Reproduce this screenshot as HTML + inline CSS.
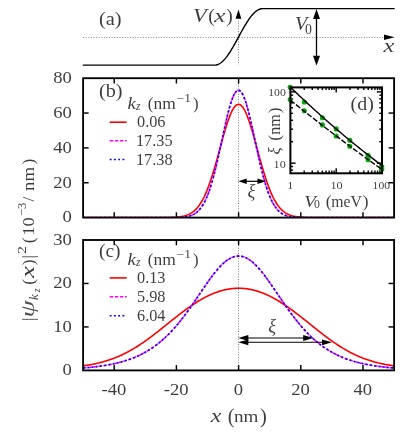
<!DOCTYPE html>
<html><head><meta charset="utf-8"><title>figure</title><style>html,body{margin:0;padding:0;background:#fff}body{width:415px;height:436px;overflow:hidden}</style></head><body>
<svg width="415" height="436" viewBox="0 0 415 436" style="display:block;will-change:transform;font-family:'Liberation Serif',serif">
<defs><clipPath id="cb"><rect x="83.10" y="78.20" width="311.00" height="138.70"/></clipPath><clipPath id="cc"><rect x="83.10" y="240.00" width="311.00" height="130.40"/></clipPath></defs>
<line x1="83.1" y1="37.5" x2="386.1" y2="37.5" stroke="#808080" stroke-width="1" stroke-dasharray="1 1.6"/>
<line x1="238.5" y1="18" x2="238.5" y2="65.1" stroke="#808080" stroke-width="1" stroke-dasharray="1 1.6"/>
<path d="M82.80 65.10 L214.60 65.15 L215.40 65.11 L216.20 65.00 L217.00 64.80 L217.80 64.53 L218.60 64.19 L219.40 63.77 L220.20 63.27 L221.00 62.71 L221.80 62.07 L222.60 61.37 L223.40 60.59 L224.20 59.75 L225.00 58.85 L225.80 57.89 L226.60 56.88 L227.40 55.80 L228.20 54.68 L229.00 53.50 L229.80 52.29 L230.60 51.02 L231.40 49.73 L232.20 48.39 L233.00 47.02 L233.80 45.63 L234.60 44.21 L235.40 42.77 L236.20 41.32 L237.00 39.85 L237.80 38.38 L238.60 36.90 L239.40 35.42 L240.20 33.95 L241.00 32.48 L241.80 31.03 L242.60 29.59 L243.40 28.17 L244.20 26.78 L245.00 25.41 L245.80 24.07 L246.60 22.78 L247.40 21.51 L248.20 20.30 L249.00 19.12 L249.80 18.00 L250.60 16.92 L251.40 15.91 L252.20 14.95 L253.00 14.05 L253.80 13.21 L254.60 12.43 L255.40 11.73 L256.20 11.09 L257.00 10.53 L257.80 10.03 L258.60 9.61 L259.40 9.27 L260.20 9.00 L261.00 8.80 L261.80 8.69 L262.60 8.65 L394.70 8.60" fill="none" stroke="#000" stroke-width="1.4" stroke-linejoin="round"/>
<path d="M238.50 9.40 L235.60 18.80 L241.40 18.80 Z" fill="#000"/>
<path d="M394.60 37.30 L384.00 34.60 L384.00 40.00 Z" fill="#000"/>
<line x1="316.5" y1="14" x2="316.5" y2="60" stroke="#000" stroke-width="1.3"/>
<path d="M316.50 9.00 L313.00 19.00 L320.00 19.00 Z" fill="#000"/>
<path d="M316.50 65.80 L313.00 55.80 L320.00 55.80 Z" fill="#000"/>
<text x="99.0" y="25.0" font-size="19.5" text-anchor="start" fill="#000" opacity="0.77"  textLength="22.6" lengthAdjust="spacingAndGlyphs"  style="">(a)</text>
<text x="193.0" y="21.5" font-size="18.5" text-anchor="start" fill="#000" opacity="0.77"  textLength="13.8" lengthAdjust="spacingAndGlyphs"  style="font-style:italic">V</text>
<text x="208.2" y="21.9" font-size="19.5" text-anchor="start" fill="#000" opacity="0.77"   style="">(</text>
<text x="214.2" y="21.5" font-size="18.5" text-anchor="start" fill="#000" opacity="0.77"  textLength="11.2" lengthAdjust="spacingAndGlyphs"  style="font-style:italic">x</text>
<text x="226.2" y="21.9" font-size="19.5" text-anchor="start" fill="#000" opacity="0.77"   style="">)</text>
<text x="294.9" y="30.1" font-size="18.5" text-anchor="start" fill="#000" opacity="0.77"  textLength="12.3" lengthAdjust="spacingAndGlyphs"  style="font-style:italic">V</text>
<text x="305.0" y="33.6" font-size="13.8" text-anchor="start" fill="#000" opacity="0.77"   style="">0</text>
<text x="383.5" y="51.7" font-size="18.5" text-anchor="start" fill="#000" opacity="0.77"  textLength="10.8" lengthAdjust="spacingAndGlyphs"  style="font-style:italic">x</text>
<line x1="238.5" y1="78.2" x2="238.5" y2="217.6" stroke="#808080" stroke-width="1" stroke-dasharray="1 1.6"/>
<line x1="238.5" y1="240.0" x2="238.5" y2="370.4" stroke="#808080" stroke-width="1" stroke-dasharray="1 1.6"/>
<g clip-path="url(#cb)">
<path d="M83.01 217.60 L83.78 217.60 L84.56 217.60 L85.34 217.60 L86.12 217.60 L86.89 217.60 L87.67 217.60 L88.45 217.60 L89.23 217.60 L90.00 217.60 L90.78 217.60 L91.56 217.60 L92.34 217.60 L93.11 217.60 L93.89 217.60 L94.67 217.60 L95.45 217.60 L96.22 217.60 L97.00 217.60 L97.78 217.60 L98.56 217.60 L99.33 217.60 L100.11 217.60 L100.89 217.60 L101.67 217.60 L102.44 217.60 L103.22 217.60 L104.00 217.60 L104.78 217.60 L105.55 217.60 L106.33 217.60 L107.11 217.60 L107.89 217.60 L108.66 217.60 L109.44 217.60 L110.22 217.60 L111.00 217.60 L111.77 217.60 L112.55 217.60 L113.33 217.60 L114.11 217.60 L114.88 217.60 L115.66 217.60 L116.44 217.60 L117.22 217.60 L117.99 217.60 L118.77 217.60 L119.55 217.60 L120.33 217.60 L121.10 217.60 L121.88 217.60 L122.66 217.60 L123.44 217.60 L124.21 217.60 L124.99 217.60 L125.77 217.60 L126.55 217.60 L127.32 217.60 L128.10 217.60 L128.88 217.60 L129.66 217.60 L130.43 217.60 L131.21 217.60 L131.99 217.60 L132.77 217.60 L133.54 217.60 L134.32 217.60 L135.10 217.60 L135.88 217.60 L136.65 217.60 L137.43 217.60 L138.21 217.60 L138.99 217.60 L139.76 217.60 L140.54 217.60 L141.32 217.60 L142.10 217.60 L142.87 217.60 L143.65 217.60 L144.43 217.60 L145.21 217.60 L145.98 217.60 L146.76 217.60 L147.54 217.60 L148.32 217.60 L149.09 217.60 L149.87 217.60 L150.65 217.60 L151.43 217.60 L152.20 217.60 L152.98 217.60 L153.76 217.60 L154.54 217.60 L155.31 217.59 L156.09 217.59 L156.87 217.59 L157.65 217.59 L158.42 217.59 L159.20 217.59 L159.98 217.58 L160.76 217.58 L161.53 217.58 L162.31 217.57 L163.09 217.57 L163.87 217.56 L164.64 217.56 L165.42 217.55 L166.20 217.54 L166.98 217.53 L167.75 217.51 L168.53 217.50 L169.31 217.48 L170.09 217.46 L170.86 217.44 L171.64 217.42 L172.42 217.39 L173.20 217.35 L173.97 217.31 L174.75 217.27 L175.53 217.22 L176.31 217.16 L177.08 217.10 L177.86 217.02 L178.64 216.94 L179.42 216.85 L180.19 216.74 L180.97 216.62 L181.75 216.49 L182.53 216.34 L183.30 216.18 L184.08 215.99 L184.86 215.78 L185.64 215.55 L186.41 215.30 L187.19 215.02 L187.97 214.71 L188.75 214.36 L189.52 213.99 L190.30 213.57 L191.08 213.12 L191.86 212.62 L192.63 212.08 L193.41 211.49 L194.19 210.85 L194.97 210.16 L195.74 209.40 L196.52 208.59 L197.30 207.71 L198.08 206.77 L198.85 205.76 L199.63 204.67 L200.41 203.51 L201.19 202.27 L201.96 200.95 L202.74 199.55 L203.52 198.07 L204.30 196.50 L205.07 194.85 L205.85 193.11 L206.63 191.28 L207.41 189.36 L208.18 187.35 L208.96 185.26 L209.74 183.09 L210.52 180.83 L211.29 178.49 L212.07 176.08 L212.85 173.59 L213.63 171.04 L214.40 168.42 L215.18 165.74 L215.96 163.02 L216.74 160.25 L217.51 157.45 L218.29 154.61 L219.07 151.76 L219.85 148.90 L220.62 146.04 L221.40 143.19 L222.18 140.36 L222.96 137.56 L223.73 134.81 L224.51 132.10 L225.29 129.47 L226.07 126.91 L226.84 124.43 L227.62 122.06 L228.40 119.79 L229.18 117.65 L229.95 115.63 L230.73 113.75 L231.51 112.03 L232.29 110.46 L233.06 109.05 L233.84 107.82 L234.62 106.77 L235.40 105.90 L236.17 105.22 L236.95 104.73 L237.73 104.44 L238.51 104.34 L239.28 104.44 L240.06 104.73 L240.84 105.22 L241.62 105.90 L242.39 106.77 L243.17 107.82 L243.95 109.05 L244.73 110.46 L245.50 112.03 L246.28 113.75 L247.06 115.63 L247.84 117.65 L248.61 119.79 L249.39 122.06 L250.17 124.43 L250.95 126.91 L251.72 129.47 L252.50 132.10 L253.28 134.81 L254.06 137.56 L254.83 140.36 L255.61 143.19 L256.39 146.04 L257.17 148.90 L257.94 151.76 L258.72 154.61 L259.50 157.45 L260.28 160.25 L261.05 163.02 L261.83 165.74 L262.61 168.42 L263.39 171.04 L264.16 173.59 L264.94 176.08 L265.72 178.49 L266.50 180.83 L267.27 183.09 L268.05 185.26 L268.83 187.35 L269.61 189.36 L270.38 191.28 L271.16 193.11 L271.94 194.85 L272.72 196.50 L273.49 198.07 L274.27 199.55 L275.05 200.95 L275.83 202.27 L276.60 203.51 L277.38 204.67 L278.16 205.76 L278.94 206.77 L279.71 207.71 L280.49 208.59 L281.27 209.40 L282.05 210.16 L282.82 210.85 L283.60 211.49 L284.38 212.08 L285.16 212.62 L285.93 213.12 L286.71 213.57 L287.49 213.99 L288.27 214.36 L289.04 214.71 L289.82 215.02 L290.60 215.30 L291.38 215.55 L292.15 215.78 L292.93 215.99 L293.71 216.18 L294.49 216.34 L295.26 216.49 L296.04 216.62 L296.82 216.74 L297.60 216.85 L298.37 216.94 L299.15 217.02 L299.93 217.10 L300.71 217.16 L301.48 217.22 L302.26 217.27 L303.04 217.31 L303.82 217.35 L304.59 217.39 L305.37 217.42 L306.15 217.44 L306.93 217.46 L307.70 217.48 L308.48 217.50 L309.26 217.51 L310.04 217.53 L310.81 217.54 L311.59 217.55 L312.37 217.56 L313.15 217.56 L313.92 217.57 L314.70 217.57 L315.48 217.58 L316.26 217.58 L317.03 217.58 L317.81 217.59 L318.59 217.59 L319.37 217.59 L320.14 217.59 L320.92 217.59 L321.70 217.59 L322.48 217.60 L323.25 217.60 L324.03 217.60 L324.81 217.60 L325.59 217.60 L326.36 217.60 L327.14 217.60 L327.92 217.60 L328.70 217.60 L329.47 217.60 L330.25 217.60 L331.03 217.60 L331.81 217.60 L332.58 217.60 L333.36 217.60 L334.14 217.60 L334.92 217.60 L335.69 217.60 L336.47 217.60 L337.25 217.60 L338.03 217.60 L338.80 217.60 L339.58 217.60 L340.36 217.60 L341.14 217.60 L341.91 217.60 L342.69 217.60 L343.47 217.60 L344.25 217.60 L345.02 217.60 L345.80 217.60 L346.58 217.60 L347.36 217.60 L348.13 217.60 L348.91 217.60 L349.69 217.60 L350.47 217.60 L351.24 217.60 L352.02 217.60 L352.80 217.60 L353.58 217.60 L354.35 217.60 L355.13 217.60 L355.91 217.60 L356.69 217.60 L357.46 217.60 L358.24 217.60 L359.02 217.60 L359.80 217.60 L360.57 217.60 L361.35 217.60 L362.13 217.60 L362.91 217.60 L363.68 217.60 L364.46 217.60 L365.24 217.60 L366.02 217.60 L366.79 217.60 L367.57 217.60 L368.35 217.60 L369.13 217.60 L369.90 217.60 L370.68 217.60 L371.46 217.60 L372.24 217.60 L373.01 217.60 L373.79 217.60 L374.57 217.60 L375.35 217.60 L376.12 217.60 L376.90 217.60 L377.68 217.60 L378.46 217.60 L379.23 217.60 L380.01 217.60 L380.79 217.60 L381.57 217.60 L382.34 217.60 L383.12 217.60 L383.90 217.60 L384.68 217.60 L385.45 217.60 L386.23 217.60 L387.01 217.60 L387.79 217.60 L388.56 217.60 L389.34 217.60 L390.12 217.60 L390.90 217.60 L391.67 217.60 L392.45 217.60 L393.23 217.60 L394.01 217.60" fill="none" stroke="#ff0000" stroke-width="1.6" />
<path d="M82.94 217.60 L83.72 217.60 L84.50 217.60 L85.28 217.60 L86.05 217.60 L86.83 217.60 L87.61 217.60 L88.39 217.60 L89.16 217.60 L89.94 217.60 L90.72 217.60 L91.50 217.60 L92.27 217.60 L93.05 217.60 L93.83 217.60 L94.61 217.60 L95.38 217.60 L96.16 217.60 L96.94 217.60 L97.72 217.60 L98.49 217.60 L99.27 217.60 L100.05 217.60 L100.83 217.60 L101.60 217.60 L102.38 217.60 L103.16 217.60 L103.94 217.60 L104.71 217.60 L105.49 217.60 L106.27 217.60 L107.05 217.60 L107.82 217.60 L108.60 217.60 L109.38 217.60 L110.16 217.60 L110.93 217.60 L111.71 217.60 L112.49 217.60 L113.27 217.60 L114.04 217.60 L114.82 217.60 L115.60 217.60 L116.38 217.60 L117.15 217.60 L117.93 217.60 L118.71 217.60 L119.49 217.60 L120.26 217.60 L121.04 217.60 L121.82 217.60 L122.60 217.60 L123.37 217.60 L124.15 217.60 L124.93 217.60 L125.71 217.60 L126.48 217.60 L127.26 217.60 L128.04 217.60 L128.82 217.60 L129.59 217.60 L130.37 217.60 L131.15 217.60 L131.93 217.60 L132.70 217.60 L133.48 217.60 L134.26 217.60 L135.04 217.60 L135.81 217.60 L136.59 217.60 L137.37 217.60 L138.15 217.60 L138.92 217.60 L139.70 217.60 L140.48 217.60 L141.26 217.60 L142.03 217.60 L142.81 217.60 L143.59 217.60 L144.37 217.60 L145.14 217.60 L145.92 217.60 L146.70 217.60 L147.48 217.60 L148.25 217.60 L149.03 217.60 L149.81 217.60 L150.59 217.60 L151.36 217.60 L152.14 217.60 L152.92 217.60 L153.70 217.60 L154.47 217.60 L155.25 217.60 L156.03 217.60 L156.81 217.60 L157.58 217.60 L158.36 217.60 L159.14 217.60 L159.92 217.60 L160.69 217.60 L161.47 217.60 L162.25 217.60 L163.03 217.60 L163.80 217.60 L164.58 217.59 L165.36 217.59 L166.14 217.59 L166.91 217.59 L167.69 217.59 L168.47 217.58 L169.25 217.58 L170.02 217.58 L170.80 217.57 L171.58 217.56 L172.36 217.56 L173.13 217.55 L173.91 217.54 L174.69 217.52 L175.47 217.51 L176.24 217.49 L177.02 217.47 L177.80 217.45 L178.58 217.42 L179.35 217.38 L180.13 217.34 L180.91 217.30 L181.69 217.25 L182.46 217.18 L183.24 217.11 L184.02 217.03 L184.80 216.94 L185.57 216.83 L186.35 216.70 L187.13 216.56 L187.91 216.40 L188.68 216.22 L189.46 216.01 L190.24 215.77 L191.02 215.51 L191.79 215.21 L192.57 214.87 L193.35 214.50 L194.13 214.08 L194.90 213.61 L195.68 213.09 L196.46 212.51 L197.24 211.87 L198.01 211.17 L198.79 210.39 L199.57 209.54 L200.35 208.61 L201.12 207.59 L201.90 206.49 L202.68 205.29 L203.46 203.98 L204.23 202.58 L205.01 201.06 L205.79 199.44 L206.57 197.69 L207.34 195.83 L208.12 193.85 L208.90 191.74 L209.68 189.51 L210.45 187.15 L211.23 184.66 L212.01 182.06 L212.79 179.33 L213.56 176.48 L214.34 173.52 L215.12 170.45 L215.90 167.27 L216.67 164.00 L217.45 160.65 L218.23 157.21 L219.01 153.72 L219.78 150.17 L220.56 146.57 L221.34 142.96 L222.12 139.33 L222.89 135.70 L223.67 132.10 L224.45 128.53 L225.23 125.02 L226.00 121.59 L226.78 118.24 L227.56 115.01 L228.34 111.91 L229.11 108.95 L229.89 106.15 L230.67 103.54 L231.45 101.12 L232.22 98.91 L233.00 96.93 L233.78 95.19 L234.56 93.69 L235.33 92.45 L236.11 91.48 L236.89 90.78 L237.67 90.36 L238.44 90.22 L239.22 90.36 L240.00 90.78 L240.78 91.48 L241.55 92.45 L242.33 93.69 L243.11 95.19 L243.89 96.93 L244.66 98.91 L245.44 101.12 L246.22 103.54 L247.00 106.15 L247.77 108.95 L248.55 111.91 L249.33 115.01 L250.11 118.24 L250.88 121.59 L251.66 125.02 L252.44 128.53 L253.22 132.10 L253.99 135.70 L254.77 139.33 L255.55 142.96 L256.33 146.57 L257.10 150.17 L257.88 153.72 L258.66 157.21 L259.44 160.65 L260.21 164.00 L260.99 167.27 L261.77 170.45 L262.55 173.52 L263.32 176.48 L264.10 179.33 L264.88 182.06 L265.66 184.66 L266.43 187.15 L267.21 189.51 L267.99 191.74 L268.77 193.85 L269.54 195.83 L270.32 197.69 L271.10 199.44 L271.88 201.06 L272.65 202.58 L273.43 203.98 L274.21 205.29 L274.99 206.49 L275.76 207.59 L276.54 208.61 L277.32 209.54 L278.10 210.39 L278.87 211.17 L279.65 211.87 L280.43 212.51 L281.21 213.09 L281.98 213.61 L282.76 214.08 L283.54 214.50 L284.32 214.87 L285.09 215.21 L285.87 215.51 L286.65 215.77 L287.43 216.01 L288.20 216.22 L288.98 216.40 L289.76 216.56 L290.54 216.70 L291.31 216.83 L292.09 216.94 L292.87 217.03 L293.65 217.11 L294.42 217.18 L295.20 217.25 L295.98 217.30 L296.76 217.34 L297.53 217.38 L298.31 217.42 L299.09 217.45 L299.87 217.47 L300.64 217.49 L301.42 217.51 L302.20 217.52 L302.98 217.54 L303.75 217.55 L304.53 217.56 L305.31 217.56 L306.09 217.57 L306.86 217.58 L307.64 217.58 L308.42 217.58 L309.20 217.59 L309.97 217.59 L310.75 217.59 L311.53 217.59 L312.31 217.59 L313.08 217.60 L313.86 217.60 L314.64 217.60 L315.42 217.60 L316.19 217.60 L316.97 217.60 L317.75 217.60 L318.53 217.60 L319.30 217.60 L320.08 217.60 L320.86 217.60 L321.64 217.60 L322.41 217.60 L323.19 217.60 L323.97 217.60 L324.75 217.60 L325.52 217.60 L326.30 217.60 L327.08 217.60 L327.86 217.60 L328.63 217.60 L329.41 217.60 L330.19 217.60 L330.97 217.60 L331.74 217.60 L332.52 217.60 L333.30 217.60 L334.08 217.60 L334.85 217.60 L335.63 217.60 L336.41 217.60 L337.19 217.60 L337.96 217.60 L338.74 217.60 L339.52 217.60 L340.30 217.60 L341.07 217.60 L341.85 217.60 L342.63 217.60 L343.41 217.60 L344.18 217.60 L344.96 217.60 L345.74 217.60 L346.52 217.60 L347.29 217.60 L348.07 217.60 L348.85 217.60 L349.63 217.60 L350.40 217.60 L351.18 217.60 L351.96 217.60 L352.74 217.60 L353.51 217.60 L354.29 217.60 L355.07 217.60 L355.85 217.60 L356.62 217.60 L357.40 217.60 L358.18 217.60 L358.96 217.60 L359.73 217.60 L360.51 217.60 L361.29 217.60 L362.07 217.60 L362.84 217.60 L363.62 217.60 L364.40 217.60 L365.18 217.60 L365.95 217.60 L366.73 217.60 L367.51 217.60 L368.29 217.60 L369.06 217.60 L369.84 217.60 L370.62 217.60 L371.40 217.60 L372.17 217.60 L372.95 217.60 L373.73 217.60 L374.51 217.60 L375.28 217.60 L376.06 217.60 L376.84 217.60 L377.62 217.60 L378.39 217.60 L379.17 217.60 L379.95 217.60 L380.73 217.60 L381.50 217.60 L382.28 217.60 L383.06 217.60 L383.84 217.60 L384.61 217.60 L385.39 217.60 L386.17 217.60 L386.95 217.60 L387.72 217.60 L388.50 217.60 L389.28 217.60 L390.06 217.60 L390.83 217.60 L391.61 217.60 L392.39 217.60 L393.17 217.60 L393.94 217.60" fill="none" stroke="#ff00ff" stroke-width="1.6" stroke-dasharray="3.5 1.6"/>
<path d="M82.94 217.60 L83.72 217.60 L84.50 217.60 L85.28 217.60 L86.05 217.60 L86.83 217.60 L87.61 217.60 L88.39 217.60 L89.16 217.60 L89.94 217.60 L90.72 217.60 L91.50 217.60 L92.27 217.60 L93.05 217.60 L93.83 217.60 L94.61 217.60 L95.38 217.60 L96.16 217.60 L96.94 217.60 L97.72 217.60 L98.49 217.60 L99.27 217.60 L100.05 217.60 L100.83 217.60 L101.60 217.60 L102.38 217.60 L103.16 217.60 L103.94 217.60 L104.71 217.60 L105.49 217.60 L106.27 217.60 L107.05 217.60 L107.82 217.60 L108.60 217.60 L109.38 217.60 L110.16 217.60 L110.93 217.60 L111.71 217.60 L112.49 217.60 L113.27 217.60 L114.04 217.60 L114.82 217.60 L115.60 217.60 L116.38 217.60 L117.15 217.60 L117.93 217.60 L118.71 217.60 L119.49 217.60 L120.26 217.60 L121.04 217.60 L121.82 217.60 L122.60 217.60 L123.37 217.60 L124.15 217.60 L124.93 217.60 L125.71 217.60 L126.48 217.60 L127.26 217.60 L128.04 217.60 L128.82 217.60 L129.59 217.60 L130.37 217.60 L131.15 217.60 L131.93 217.60 L132.70 217.60 L133.48 217.60 L134.26 217.60 L135.04 217.60 L135.81 217.60 L136.59 217.60 L137.37 217.60 L138.15 217.60 L138.92 217.60 L139.70 217.60 L140.48 217.60 L141.26 217.60 L142.03 217.60 L142.81 217.60 L143.59 217.60 L144.37 217.60 L145.14 217.60 L145.92 217.60 L146.70 217.60 L147.48 217.60 L148.25 217.60 L149.03 217.60 L149.81 217.60 L150.59 217.60 L151.36 217.60 L152.14 217.60 L152.92 217.60 L153.70 217.60 L154.47 217.60 L155.25 217.60 L156.03 217.60 L156.81 217.60 L157.58 217.60 L158.36 217.60 L159.14 217.60 L159.92 217.60 L160.69 217.60 L161.47 217.60 L162.25 217.60 L163.03 217.60 L163.80 217.60 L164.58 217.59 L165.36 217.59 L166.14 217.59 L166.91 217.59 L167.69 217.59 L168.47 217.58 L169.25 217.58 L170.02 217.58 L170.80 217.57 L171.58 217.56 L172.36 217.56 L173.13 217.55 L173.91 217.54 L174.69 217.52 L175.47 217.51 L176.24 217.49 L177.02 217.47 L177.80 217.45 L178.58 217.42 L179.35 217.38 L180.13 217.34 L180.91 217.30 L181.69 217.25 L182.46 217.18 L183.24 217.11 L184.02 217.03 L184.80 216.94 L185.57 216.83 L186.35 216.70 L187.13 216.56 L187.91 216.40 L188.68 216.22 L189.46 216.01 L190.24 215.77 L191.02 215.51 L191.79 215.21 L192.57 214.87 L193.35 214.50 L194.13 214.08 L194.90 213.61 L195.68 213.09 L196.46 212.51 L197.24 211.87 L198.01 211.17 L198.79 210.39 L199.57 209.54 L200.35 208.61 L201.12 207.59 L201.90 206.49 L202.68 205.29 L203.46 203.98 L204.23 202.58 L205.01 201.06 L205.79 199.44 L206.57 197.69 L207.34 195.83 L208.12 193.85 L208.90 191.74 L209.68 189.51 L210.45 187.15 L211.23 184.66 L212.01 182.06 L212.79 179.33 L213.56 176.48 L214.34 173.52 L215.12 170.45 L215.90 167.27 L216.67 164.00 L217.45 160.65 L218.23 157.21 L219.01 153.72 L219.78 150.17 L220.56 146.57 L221.34 142.96 L222.12 139.33 L222.89 135.70 L223.67 132.10 L224.45 128.53 L225.23 125.02 L226.00 121.59 L226.78 118.24 L227.56 115.01 L228.34 111.91 L229.11 108.95 L229.89 106.15 L230.67 103.54 L231.45 101.12 L232.22 98.91 L233.00 96.93 L233.78 95.19 L234.56 93.69 L235.33 92.45 L236.11 91.48 L236.89 90.78 L237.67 90.36 L238.44 90.22 L239.22 90.36 L240.00 90.78 L240.78 91.48 L241.55 92.45 L242.33 93.69 L243.11 95.19 L243.89 96.93 L244.66 98.91 L245.44 101.12 L246.22 103.54 L247.00 106.15 L247.77 108.95 L248.55 111.91 L249.33 115.01 L250.11 118.24 L250.88 121.59 L251.66 125.02 L252.44 128.53 L253.22 132.10 L253.99 135.70 L254.77 139.33 L255.55 142.96 L256.33 146.57 L257.10 150.17 L257.88 153.72 L258.66 157.21 L259.44 160.65 L260.21 164.00 L260.99 167.27 L261.77 170.45 L262.55 173.52 L263.32 176.48 L264.10 179.33 L264.88 182.06 L265.66 184.66 L266.43 187.15 L267.21 189.51 L267.99 191.74 L268.77 193.85 L269.54 195.83 L270.32 197.69 L271.10 199.44 L271.88 201.06 L272.65 202.58 L273.43 203.98 L274.21 205.29 L274.99 206.49 L275.76 207.59 L276.54 208.61 L277.32 209.54 L278.10 210.39 L278.87 211.17 L279.65 211.87 L280.43 212.51 L281.21 213.09 L281.98 213.61 L282.76 214.08 L283.54 214.50 L284.32 214.87 L285.09 215.21 L285.87 215.51 L286.65 215.77 L287.43 216.01 L288.20 216.22 L288.98 216.40 L289.76 216.56 L290.54 216.70 L291.31 216.83 L292.09 216.94 L292.87 217.03 L293.65 217.11 L294.42 217.18 L295.20 217.25 L295.98 217.30 L296.76 217.34 L297.53 217.38 L298.31 217.42 L299.09 217.45 L299.87 217.47 L300.64 217.49 L301.42 217.51 L302.20 217.52 L302.98 217.54 L303.75 217.55 L304.53 217.56 L305.31 217.56 L306.09 217.57 L306.86 217.58 L307.64 217.58 L308.42 217.58 L309.20 217.59 L309.97 217.59 L310.75 217.59 L311.53 217.59 L312.31 217.59 L313.08 217.60 L313.86 217.60 L314.64 217.60 L315.42 217.60 L316.19 217.60 L316.97 217.60 L317.75 217.60 L318.53 217.60 L319.30 217.60 L320.08 217.60 L320.86 217.60 L321.64 217.60 L322.41 217.60 L323.19 217.60 L323.97 217.60 L324.75 217.60 L325.52 217.60 L326.30 217.60 L327.08 217.60 L327.86 217.60 L328.63 217.60 L329.41 217.60 L330.19 217.60 L330.97 217.60 L331.74 217.60 L332.52 217.60 L333.30 217.60 L334.08 217.60 L334.85 217.60 L335.63 217.60 L336.41 217.60 L337.19 217.60 L337.96 217.60 L338.74 217.60 L339.52 217.60 L340.30 217.60 L341.07 217.60 L341.85 217.60 L342.63 217.60 L343.41 217.60 L344.18 217.60 L344.96 217.60 L345.74 217.60 L346.52 217.60 L347.29 217.60 L348.07 217.60 L348.85 217.60 L349.63 217.60 L350.40 217.60 L351.18 217.60 L351.96 217.60 L352.74 217.60 L353.51 217.60 L354.29 217.60 L355.07 217.60 L355.85 217.60 L356.62 217.60 L357.40 217.60 L358.18 217.60 L358.96 217.60 L359.73 217.60 L360.51 217.60 L361.29 217.60 L362.07 217.60 L362.84 217.60 L363.62 217.60 L364.40 217.60 L365.18 217.60 L365.95 217.60 L366.73 217.60 L367.51 217.60 L368.29 217.60 L369.06 217.60 L369.84 217.60 L370.62 217.60 L371.40 217.60 L372.17 217.60 L372.95 217.60 L373.73 217.60 L374.51 217.60 L375.28 217.60 L376.06 217.60 L376.84 217.60 L377.62 217.60 L378.39 217.60 L379.17 217.60 L379.95 217.60 L380.73 217.60 L381.50 217.60 L382.28 217.60 L383.06 217.60 L383.84 217.60 L384.61 217.60 L385.39 217.60 L386.17 217.60 L386.95 217.60 L387.72 217.60 L388.50 217.60 L389.28 217.60 L390.06 217.60 L390.83 217.60 L391.61 217.60 L392.39 217.60 L393.17 217.60 L393.94 217.60" fill="none" stroke="#0000ff" stroke-width="1.6" stroke-dasharray="1.9 2.35"/>
</g>
<g clip-path="url(#cc)">
<path d="M83.10 365.83 L83.88 365.72 L84.66 365.61 L85.43 365.50 L86.21 365.38 L86.99 365.26 L87.77 365.14 L88.54 365.01 L89.32 364.88 L90.10 364.75 L90.88 364.61 L91.65 364.46 L92.43 364.32 L93.21 364.16 L93.99 364.01 L94.76 363.85 L95.54 363.68 L96.32 363.51 L97.10 363.34 L97.87 363.16 L98.65 362.97 L99.43 362.79 L100.21 362.59 L100.98 362.39 L101.76 362.19 L102.54 361.98 L103.32 361.76 L104.09 361.54 L104.87 361.32 L105.65 361.09 L106.43 360.85 L107.20 360.61 L107.98 360.36 L108.76 360.10 L109.54 359.84 L110.31 359.58 L111.09 359.31 L111.87 359.03 L112.65 358.74 L113.42 358.45 L114.20 358.16 L114.98 357.85 L115.76 357.54 L116.53 357.23 L117.31 356.90 L118.09 356.58 L118.87 356.24 L119.64 355.90 L120.42 355.55 L121.20 355.20 L121.98 354.83 L122.75 354.47 L123.53 354.09 L124.31 353.71 L125.09 353.32 L125.86 352.93 L126.64 352.52 L127.42 352.12 L128.20 351.70 L128.97 351.28 L129.75 350.85 L130.53 350.42 L131.31 349.98 L132.08 349.53 L132.86 349.08 L133.64 348.62 L134.42 348.15 L135.19 347.68 L135.97 347.20 L136.75 346.71 L137.53 346.22 L138.30 345.72 L139.08 345.22 L139.86 344.71 L140.64 344.20 L141.41 343.68 L142.19 343.15 L142.97 342.62 L143.75 342.08 L144.52 341.54 L145.30 341.00 L146.08 340.44 L146.86 339.89 L147.63 339.33 L148.41 338.76 L149.19 338.19 L149.97 337.61 L150.74 337.04 L151.52 336.45 L152.30 335.87 L153.08 335.28 L153.85 334.68 L154.63 334.09 L155.41 333.49 L156.19 332.88 L156.96 332.28 L157.74 331.67 L158.52 331.06 L159.30 330.45 L160.07 329.83 L160.85 329.21 L161.63 328.60 L162.41 327.98 L163.18 327.35 L163.96 326.73 L164.74 326.11 L165.52 325.49 L166.29 324.86 L167.07 324.24 L167.85 323.61 L168.63 322.99 L169.40 322.36 L170.18 321.74 L170.96 321.12 L171.74 320.49 L172.51 319.87 L173.29 319.25 L174.07 318.63 L174.85 318.02 L175.62 317.40 L176.40 316.79 L177.18 316.18 L177.96 315.57 L178.73 314.97 L179.51 314.37 L180.29 313.77 L181.07 313.17 L181.84 312.58 L182.62 311.99 L183.40 311.41 L184.18 310.83 L184.95 310.25 L185.73 309.68 L186.51 309.11 L187.29 308.55 L188.06 308.00 L188.84 307.44 L189.62 306.90 L190.40 306.35 L191.17 305.82 L191.95 305.29 L192.73 304.76 L193.51 304.25 L194.28 303.73 L195.06 303.23 L195.84 302.73 L196.62 302.24 L197.39 301.75 L198.17 301.27 L198.95 300.80 L199.73 300.34 L200.50 299.88 L201.28 299.43 L202.06 298.99 L202.84 298.55 L203.61 298.13 L204.39 297.71 L205.17 297.30 L205.95 296.89 L206.72 296.50 L207.50 296.11 L208.28 295.74 L209.06 295.37 L209.83 295.01 L210.61 294.65 L211.39 294.31 L212.17 293.98 L212.94 293.65 L213.72 293.33 L214.50 293.03 L215.28 292.73 L216.05 292.44 L216.83 292.16 L217.61 291.89 L218.39 291.62 L219.16 291.37 L219.94 291.13 L220.72 290.90 L221.50 290.67 L222.27 290.46 L223.05 290.26 L223.83 290.06 L224.61 289.88 L225.38 289.70 L226.16 289.54 L226.94 289.38 L227.72 289.23 L228.49 289.10 L229.27 288.97 L230.05 288.86 L230.83 288.75 L231.60 288.66 L232.38 288.57 L233.16 288.50 L233.94 288.43 L234.71 288.37 L235.49 288.33 L236.27 288.29 L237.05 288.27 L237.82 288.25 L238.60 288.25 L239.38 288.25 L240.16 288.27 L240.93 288.29 L241.71 288.33 L242.49 288.37 L243.27 288.43 L244.04 288.50 L244.82 288.57 L245.60 288.66 L246.38 288.75 L247.15 288.86 L247.93 288.97 L248.71 289.10 L249.49 289.23 L250.26 289.38 L251.04 289.54 L251.82 289.70 L252.60 289.88 L253.37 290.06 L254.15 290.26 L254.93 290.46 L255.71 290.67 L256.48 290.90 L257.26 291.13 L258.04 291.37 L258.81 291.62 L259.59 291.89 L260.37 292.16 L261.15 292.44 L261.93 292.73 L262.70 293.03 L263.48 293.33 L264.26 293.65 L265.04 293.98 L265.81 294.31 L266.59 294.65 L267.37 295.01 L268.15 295.37 L268.92 295.74 L269.70 296.11 L270.48 296.50 L271.25 296.89 L272.03 297.30 L272.81 297.71 L273.59 298.13 L274.37 298.55 L275.14 298.99 L275.92 299.43 L276.70 299.88 L277.48 300.34 L278.25 300.80 L279.03 301.27 L279.81 301.75 L280.59 302.24 L281.36 302.73 L282.14 303.23 L282.92 303.73 L283.70 304.25 L284.47 304.76 L285.25 305.29 L286.03 305.82 L286.81 306.35 L287.58 306.90 L288.36 307.44 L289.14 308.00 L289.92 308.55 L290.69 309.11 L291.47 309.68 L292.25 310.25 L293.03 310.83 L293.80 311.41 L294.58 311.99 L295.36 312.58 L296.13 313.17 L296.91 313.77 L297.69 314.37 L298.47 314.97 L299.25 315.57 L300.02 316.18 L300.80 316.79 L301.58 317.40 L302.36 318.02 L303.13 318.63 L303.91 319.25 L304.69 319.87 L305.47 320.49 L306.24 321.12 L307.02 321.74 L307.80 322.36 L308.58 322.99 L309.35 323.61 L310.13 324.24 L310.91 324.86 L311.69 325.49 L312.46 326.11 L313.24 326.73 L314.02 327.35 L314.80 327.98 L315.57 328.60 L316.35 329.21 L317.13 329.83 L317.91 330.45 L318.68 331.06 L319.46 331.67 L320.24 332.28 L321.01 332.88 L321.79 333.49 L322.57 334.09 L323.35 334.68 L324.12 335.28 L324.90 335.87 L325.68 336.45 L326.46 337.04 L327.24 337.61 L328.01 338.19 L328.79 338.76 L329.57 339.33 L330.35 339.89 L331.12 340.44 L331.90 341.00 L332.68 341.54 L333.46 342.08 L334.23 342.62 L335.01 343.15 L335.79 343.68 L336.56 344.20 L337.34 344.71 L338.12 345.22 L338.90 345.72 L339.68 346.22 L340.45 346.71 L341.23 347.20 L342.01 347.68 L342.79 348.15 L343.56 348.62 L344.34 349.08 L345.12 349.53 L345.90 349.98 L346.67 350.42 L347.45 350.85 L348.23 351.28 L349.00 351.70 L349.78 352.12 L350.56 352.52 L351.34 352.93 L352.12 353.32 L352.89 353.71 L353.67 354.09 L354.45 354.47 L355.23 354.83 L356.00 355.20 L356.78 355.55 L357.56 355.90 L358.34 356.24 L359.11 356.58 L359.89 356.90 L360.67 357.23 L361.45 357.54 L362.22 357.85 L363.00 358.16 L363.78 358.45 L364.56 358.74 L365.33 359.03 L366.11 359.31 L366.89 359.58 L367.67 359.84 L368.44 360.10 L369.22 360.36 L370.00 360.61 L370.77 360.85 L371.55 361.09 L372.33 361.32 L373.11 361.54 L373.88 361.76 L374.66 361.98 L375.44 362.19 L376.22 362.39 L377.00 362.59 L377.77 362.79 L378.55 362.97 L379.33 363.16 L380.11 363.34 L380.88 363.51 L381.66 363.68 L382.44 363.85 L383.22 364.01 L383.99 364.16 L384.77 364.32 L385.55 364.46 L386.33 364.61 L387.10 364.75 L387.88 364.88 L388.66 365.01 L389.44 365.14 L390.21 365.26 L390.99 365.38 L391.77 365.50 L392.55 365.61 L393.32 365.72 L394.10 365.83" fill="none" stroke="#ff0000" stroke-width="1.6" />
<path d="M83.10 367.99 L83.88 367.93 L84.66 367.86 L85.43 367.80 L86.21 367.73 L86.99 367.66 L87.77 367.59 L88.54 367.51 L89.32 367.44 L90.10 367.36 L90.88 367.28 L91.65 367.20 L92.43 367.12 L93.21 367.03 L93.99 366.94 L94.76 366.85 L95.54 366.76 L96.32 366.66 L97.10 366.57 L97.87 366.47 L98.65 366.36 L99.43 366.26 L100.21 366.15 L100.98 366.04 L101.76 365.93 L102.54 365.81 L103.32 365.69 L104.09 365.57 L104.87 365.44 L105.65 365.32 L106.43 365.18 L107.20 365.05 L107.98 364.91 L108.76 364.77 L109.54 364.62 L110.31 364.47 L111.09 364.32 L111.87 364.16 L112.65 364.00 L113.42 363.84 L114.20 363.67 L114.98 363.50 L115.76 363.32 L116.53 363.14 L117.31 362.95 L118.09 362.76 L118.87 362.56 L119.64 362.36 L120.42 362.16 L121.20 361.95 L121.98 361.73 L122.75 361.51 L123.53 361.29 L124.31 361.05 L125.09 360.82 L125.86 360.57 L126.64 360.33 L127.42 360.07 L128.20 359.81 L128.97 359.54 L129.75 359.27 L130.53 358.99 L131.31 358.70 L132.08 358.41 L132.86 358.11 L133.64 357.80 L134.42 357.49 L135.19 357.16 L135.97 356.83 L136.75 356.50 L137.53 356.15 L138.30 355.80 L139.08 355.44 L139.86 355.07 L140.64 354.69 L141.41 354.30 L142.19 353.91 L142.97 353.51 L143.75 353.09 L144.52 352.67 L145.30 352.24 L146.08 351.80 L146.86 351.35 L147.63 350.89 L148.41 350.42 L149.19 349.94 L149.97 349.45 L150.74 348.95 L151.52 348.43 L152.30 347.91 L153.08 347.38 L153.85 346.83 L154.63 346.28 L155.41 345.71 L156.19 345.13 L156.96 344.55 L157.74 343.94 L158.52 343.33 L159.30 342.71 L160.07 342.07 L160.85 341.42 L161.63 340.76 L162.41 340.08 L163.18 339.40 L163.96 338.70 L164.74 337.99 L165.52 337.26 L166.29 336.52 L167.07 335.77 L167.85 335.01 L168.63 334.23 L169.40 333.44 L170.18 332.64 L170.96 331.83 L171.74 331.00 L172.51 330.16 L173.29 329.30 L174.07 328.44 L174.85 327.55 L175.62 326.66 L176.40 325.76 L177.18 324.84 L177.96 323.91 L178.73 322.96 L179.51 322.01 L180.29 321.04 L181.07 320.06 L181.84 319.07 L182.62 318.06 L183.40 317.05 L184.18 316.02 L184.95 314.99 L185.73 313.94 L186.51 312.88 L187.29 311.82 L188.06 310.74 L188.84 309.66 L189.62 308.57 L190.40 307.47 L191.17 306.36 L191.95 305.24 L192.73 304.12 L193.51 302.99 L194.28 301.86 L195.06 300.72 L195.84 299.58 L196.62 298.43 L197.39 297.29 L198.17 296.14 L198.95 294.99 L199.73 293.83 L200.50 292.68 L201.28 291.53 L202.06 290.38 L202.84 289.24 L203.61 288.10 L204.39 286.96 L205.17 285.83 L205.95 284.70 L206.72 283.58 L207.50 282.47 L208.28 281.37 L209.06 280.28 L209.83 279.20 L210.61 278.13 L211.39 277.08 L212.17 276.04 L212.94 275.01 L213.72 274.01 L214.50 273.02 L215.28 272.04 L216.05 271.09 L216.83 270.16 L217.61 269.25 L218.39 268.36 L219.16 267.50 L219.94 266.66 L220.72 265.85 L221.50 265.06 L222.27 264.30 L223.05 263.57 L223.83 262.87 L224.61 262.20 L225.38 261.56 L226.16 260.95 L226.94 260.38 L227.72 259.84 L228.49 259.33 L229.27 258.86 L230.05 258.42 L230.83 258.02 L231.60 257.65 L232.38 257.33 L233.16 257.04 L233.94 256.78 L234.71 256.57 L235.49 256.40 L236.27 256.26 L237.05 256.16 L237.82 256.10 L238.60 256.08 L239.38 256.10 L240.16 256.16 L240.93 256.26 L241.71 256.40 L242.49 256.57 L243.27 256.78 L244.04 257.04 L244.82 257.33 L245.60 257.65 L246.38 258.02 L247.15 258.42 L247.93 258.86 L248.71 259.33 L249.49 259.84 L250.26 260.38 L251.04 260.95 L251.82 261.56 L252.60 262.20 L253.37 262.87 L254.15 263.57 L254.93 264.30 L255.71 265.06 L256.48 265.85 L257.26 266.66 L258.04 267.50 L258.81 268.36 L259.59 269.25 L260.37 270.16 L261.15 271.09 L261.93 272.04 L262.70 273.02 L263.48 274.01 L264.26 275.01 L265.04 276.04 L265.81 277.08 L266.59 278.13 L267.37 279.20 L268.15 280.28 L268.92 281.37 L269.70 282.47 L270.48 283.58 L271.25 284.70 L272.03 285.83 L272.81 286.96 L273.59 288.10 L274.37 289.24 L275.14 290.38 L275.92 291.53 L276.70 292.68 L277.48 293.83 L278.25 294.99 L279.03 296.14 L279.81 297.29 L280.59 298.43 L281.36 299.58 L282.14 300.72 L282.92 301.86 L283.70 302.99 L284.47 304.12 L285.25 305.24 L286.03 306.36 L286.81 307.47 L287.58 308.57 L288.36 309.66 L289.14 310.74 L289.92 311.82 L290.69 312.88 L291.47 313.94 L292.25 314.99 L293.03 316.02 L293.80 317.05 L294.58 318.06 L295.36 319.07 L296.13 320.06 L296.91 321.04 L297.69 322.01 L298.47 322.96 L299.25 323.91 L300.02 324.84 L300.80 325.76 L301.58 326.66 L302.36 327.55 L303.13 328.44 L303.91 329.30 L304.69 330.16 L305.47 331.00 L306.24 331.83 L307.02 332.64 L307.80 333.44 L308.58 334.23 L309.35 335.01 L310.13 335.77 L310.91 336.52 L311.69 337.26 L312.46 337.99 L313.24 338.70 L314.02 339.40 L314.80 340.08 L315.57 340.76 L316.35 341.42 L317.13 342.07 L317.91 342.71 L318.68 343.33 L319.46 343.94 L320.24 344.55 L321.01 345.13 L321.79 345.71 L322.57 346.28 L323.35 346.83 L324.12 347.38 L324.90 347.91 L325.68 348.43 L326.46 348.95 L327.24 349.45 L328.01 349.94 L328.79 350.42 L329.57 350.89 L330.35 351.35 L331.12 351.80 L331.90 352.24 L332.68 352.67 L333.46 353.09 L334.23 353.51 L335.01 353.91 L335.79 354.30 L336.56 354.69 L337.34 355.07 L338.12 355.44 L338.90 355.80 L339.68 356.15 L340.45 356.50 L341.23 356.83 L342.01 357.16 L342.79 357.49 L343.56 357.80 L344.34 358.11 L345.12 358.41 L345.90 358.70 L346.67 358.99 L347.45 359.27 L348.23 359.54 L349.00 359.81 L349.78 360.07 L350.56 360.33 L351.34 360.57 L352.12 360.82 L352.89 361.05 L353.67 361.29 L354.45 361.51 L355.23 361.73 L356.00 361.95 L356.78 362.16 L357.56 362.36 L358.34 362.56 L359.11 362.76 L359.89 362.95 L360.67 363.14 L361.45 363.32 L362.22 363.50 L363.00 363.67 L363.78 363.84 L364.56 364.00 L365.33 364.16 L366.11 364.32 L366.89 364.47 L367.67 364.62 L368.44 364.77 L369.22 364.91 L370.00 365.05 L370.77 365.18 L371.55 365.32 L372.33 365.44 L373.11 365.57 L373.88 365.69 L374.66 365.81 L375.44 365.93 L376.22 366.04 L377.00 366.15 L377.77 366.26 L378.55 366.36 L379.33 366.47 L380.11 366.57 L380.88 366.66 L381.66 366.76 L382.44 366.85 L383.22 366.94 L383.99 367.03 L384.77 367.12 L385.55 367.20 L386.33 367.28 L387.10 367.36 L387.88 367.44 L388.66 367.51 L389.44 367.59 L390.21 367.66 L390.99 367.73 L391.77 367.80 L392.55 367.86 L393.32 367.93 L394.10 367.99" fill="none" stroke="#ff00ff" stroke-width="1.6" stroke-dasharray="3.5 1.6"/>
<path d="M83.10 367.99 L83.88 367.93 L84.66 367.86 L85.43 367.80 L86.21 367.73 L86.99 367.66 L87.77 367.59 L88.54 367.51 L89.32 367.44 L90.10 367.36 L90.88 367.28 L91.65 367.20 L92.43 367.12 L93.21 367.03 L93.99 366.94 L94.76 366.85 L95.54 366.76 L96.32 366.66 L97.10 366.57 L97.87 366.47 L98.65 366.36 L99.43 366.26 L100.21 366.15 L100.98 366.04 L101.76 365.93 L102.54 365.81 L103.32 365.69 L104.09 365.57 L104.87 365.44 L105.65 365.32 L106.43 365.18 L107.20 365.05 L107.98 364.91 L108.76 364.77 L109.54 364.62 L110.31 364.47 L111.09 364.32 L111.87 364.16 L112.65 364.00 L113.42 363.84 L114.20 363.67 L114.98 363.50 L115.76 363.32 L116.53 363.14 L117.31 362.95 L118.09 362.76 L118.87 362.56 L119.64 362.36 L120.42 362.16 L121.20 361.95 L121.98 361.73 L122.75 361.51 L123.53 361.29 L124.31 361.05 L125.09 360.82 L125.86 360.57 L126.64 360.33 L127.42 360.07 L128.20 359.81 L128.97 359.54 L129.75 359.27 L130.53 358.99 L131.31 358.70 L132.08 358.41 L132.86 358.11 L133.64 357.80 L134.42 357.49 L135.19 357.16 L135.97 356.83 L136.75 356.50 L137.53 356.15 L138.30 355.80 L139.08 355.44 L139.86 355.07 L140.64 354.69 L141.41 354.30 L142.19 353.91 L142.97 353.51 L143.75 353.09 L144.52 352.67 L145.30 352.24 L146.08 351.80 L146.86 351.35 L147.63 350.89 L148.41 350.42 L149.19 349.94 L149.97 349.45 L150.74 348.95 L151.52 348.43 L152.30 347.91 L153.08 347.38 L153.85 346.83 L154.63 346.28 L155.41 345.71 L156.19 345.13 L156.96 344.55 L157.74 343.94 L158.52 343.33 L159.30 342.71 L160.07 342.07 L160.85 341.42 L161.63 340.76 L162.41 340.08 L163.18 339.40 L163.96 338.70 L164.74 337.99 L165.52 337.26 L166.29 336.52 L167.07 335.77 L167.85 335.01 L168.63 334.23 L169.40 333.44 L170.18 332.64 L170.96 331.83 L171.74 331.00 L172.51 330.16 L173.29 329.30 L174.07 328.44 L174.85 327.55 L175.62 326.66 L176.40 325.76 L177.18 324.84 L177.96 323.91 L178.73 322.96 L179.51 322.01 L180.29 321.04 L181.07 320.06 L181.84 319.07 L182.62 318.06 L183.40 317.05 L184.18 316.02 L184.95 314.99 L185.73 313.94 L186.51 312.88 L187.29 311.82 L188.06 310.74 L188.84 309.66 L189.62 308.57 L190.40 307.47 L191.17 306.36 L191.95 305.24 L192.73 304.12 L193.51 302.99 L194.28 301.86 L195.06 300.72 L195.84 299.58 L196.62 298.43 L197.39 297.29 L198.17 296.14 L198.95 294.99 L199.73 293.83 L200.50 292.68 L201.28 291.53 L202.06 290.38 L202.84 289.24 L203.61 288.10 L204.39 286.96 L205.17 285.83 L205.95 284.70 L206.72 283.58 L207.50 282.47 L208.28 281.37 L209.06 280.28 L209.83 279.20 L210.61 278.13 L211.39 277.08 L212.17 276.04 L212.94 275.01 L213.72 274.01 L214.50 273.02 L215.28 272.04 L216.05 271.09 L216.83 270.16 L217.61 269.25 L218.39 268.36 L219.16 267.50 L219.94 266.66 L220.72 265.85 L221.50 265.06 L222.27 264.30 L223.05 263.57 L223.83 262.87 L224.61 262.20 L225.38 261.56 L226.16 260.95 L226.94 260.38 L227.72 259.84 L228.49 259.33 L229.27 258.86 L230.05 258.42 L230.83 258.02 L231.60 257.65 L232.38 257.33 L233.16 257.04 L233.94 256.78 L234.71 256.57 L235.49 256.40 L236.27 256.26 L237.05 256.16 L237.82 256.10 L238.60 256.08 L239.38 256.10 L240.16 256.16 L240.93 256.26 L241.71 256.40 L242.49 256.57 L243.27 256.78 L244.04 257.04 L244.82 257.33 L245.60 257.65 L246.38 258.02 L247.15 258.42 L247.93 258.86 L248.71 259.33 L249.49 259.84 L250.26 260.38 L251.04 260.95 L251.82 261.56 L252.60 262.20 L253.37 262.87 L254.15 263.57 L254.93 264.30 L255.71 265.06 L256.48 265.85 L257.26 266.66 L258.04 267.50 L258.81 268.36 L259.59 269.25 L260.37 270.16 L261.15 271.09 L261.93 272.04 L262.70 273.02 L263.48 274.01 L264.26 275.01 L265.04 276.04 L265.81 277.08 L266.59 278.13 L267.37 279.20 L268.15 280.28 L268.92 281.37 L269.70 282.47 L270.48 283.58 L271.25 284.70 L272.03 285.83 L272.81 286.96 L273.59 288.10 L274.37 289.24 L275.14 290.38 L275.92 291.53 L276.70 292.68 L277.48 293.83 L278.25 294.99 L279.03 296.14 L279.81 297.29 L280.59 298.43 L281.36 299.58 L282.14 300.72 L282.92 301.86 L283.70 302.99 L284.47 304.12 L285.25 305.24 L286.03 306.36 L286.81 307.47 L287.58 308.57 L288.36 309.66 L289.14 310.74 L289.92 311.82 L290.69 312.88 L291.47 313.94 L292.25 314.99 L293.03 316.02 L293.80 317.05 L294.58 318.06 L295.36 319.07 L296.13 320.06 L296.91 321.04 L297.69 322.01 L298.47 322.96 L299.25 323.91 L300.02 324.84 L300.80 325.76 L301.58 326.66 L302.36 327.55 L303.13 328.44 L303.91 329.30 L304.69 330.16 L305.47 331.00 L306.24 331.83 L307.02 332.64 L307.80 333.44 L308.58 334.23 L309.35 335.01 L310.13 335.77 L310.91 336.52 L311.69 337.26 L312.46 337.99 L313.24 338.70 L314.02 339.40 L314.80 340.08 L315.57 340.76 L316.35 341.42 L317.13 342.07 L317.91 342.71 L318.68 343.33 L319.46 343.94 L320.24 344.55 L321.01 345.13 L321.79 345.71 L322.57 346.28 L323.35 346.83 L324.12 347.38 L324.90 347.91 L325.68 348.43 L326.46 348.95 L327.24 349.45 L328.01 349.94 L328.79 350.42 L329.57 350.89 L330.35 351.35 L331.12 351.80 L331.90 352.24 L332.68 352.67 L333.46 353.09 L334.23 353.51 L335.01 353.91 L335.79 354.30 L336.56 354.69 L337.34 355.07 L338.12 355.44 L338.90 355.80 L339.68 356.15 L340.45 356.50 L341.23 356.83 L342.01 357.16 L342.79 357.49 L343.56 357.80 L344.34 358.11 L345.12 358.41 L345.90 358.70 L346.67 358.99 L347.45 359.27 L348.23 359.54 L349.00 359.81 L349.78 360.07 L350.56 360.33 L351.34 360.57 L352.12 360.82 L352.89 361.05 L353.67 361.29 L354.45 361.51 L355.23 361.73 L356.00 361.95 L356.78 362.16 L357.56 362.36 L358.34 362.56 L359.11 362.76 L359.89 362.95 L360.67 363.14 L361.45 363.32 L362.22 363.50 L363.00 363.67 L363.78 363.84 L364.56 364.00 L365.33 364.16 L366.11 364.32 L366.89 364.47 L367.67 364.62 L368.44 364.77 L369.22 364.91 L370.00 365.05 L370.77 365.18 L371.55 365.32 L372.33 365.44 L373.11 365.57 L373.88 365.69 L374.66 365.81 L375.44 365.93 L376.22 366.04 L377.00 366.15 L377.77 366.26 L378.55 366.36 L379.33 366.47 L380.11 366.57 L380.88 366.66 L381.66 366.76 L382.44 366.85 L383.22 366.94 L383.99 367.03 L384.77 367.12 L385.55 367.20 L386.33 367.28 L387.10 367.36 L387.88 367.44 L388.66 367.51 L389.44 367.59 L390.21 367.66 L390.99 367.73 L391.77 367.80 L392.55 367.86 L393.32 367.93 L394.10 367.99" fill="none" stroke="#0000ff" stroke-width="1.6" stroke-dasharray="1.9 2.35"/>
</g>
<rect x="83.1" y="78.2" width="311.0" height="139.39999999999998" fill="none" stroke="#000" stroke-width="1.85"/>
<line x1="114.20" y1="78.2" x2="114.20" y2="83.5" stroke="#000" stroke-width="1.45"/>
<line x1="114.20" y1="217.6" x2="114.20" y2="212.29999999999998" stroke="#000" stroke-width="1.45"/>
<line x1="176.40" y1="78.2" x2="176.40" y2="83.5" stroke="#000" stroke-width="1.45"/>
<line x1="176.40" y1="217.6" x2="176.40" y2="212.29999999999998" stroke="#000" stroke-width="1.45"/>
<line x1="238.60" y1="78.2" x2="238.60" y2="83.5" stroke="#000" stroke-width="1.45"/>
<line x1="238.60" y1="217.6" x2="238.60" y2="212.29999999999998" stroke="#000" stroke-width="1.45"/>
<line x1="300.80" y1="78.2" x2="300.80" y2="83.5" stroke="#000" stroke-width="1.45"/>
<line x1="300.80" y1="217.6" x2="300.80" y2="212.29999999999998" stroke="#000" stroke-width="1.45"/>
<line x1="363.00" y1="78.2" x2="363.00" y2="83.5" stroke="#000" stroke-width="1.45"/>
<line x1="363.00" y1="217.6" x2="363.00" y2="212.29999999999998" stroke="#000" stroke-width="1.45"/>
<rect x="83.1" y="240.0" width="311.0" height="130.39999999999998" fill="none" stroke="#000" stroke-width="1.85"/>
<line x1="114.20" y1="240.0" x2="114.20" y2="245.3" stroke="#000" stroke-width="1.45"/>
<line x1="114.20" y1="370.4" x2="114.20" y2="365.09999999999997" stroke="#000" stroke-width="1.45"/>
<line x1="176.40" y1="240.0" x2="176.40" y2="245.3" stroke="#000" stroke-width="1.45"/>
<line x1="176.40" y1="370.4" x2="176.40" y2="365.09999999999997" stroke="#000" stroke-width="1.45"/>
<line x1="238.60" y1="240.0" x2="238.60" y2="245.3" stroke="#000" stroke-width="1.45"/>
<line x1="238.60" y1="370.4" x2="238.60" y2="365.09999999999997" stroke="#000" stroke-width="1.45"/>
<line x1="300.80" y1="240.0" x2="300.80" y2="245.3" stroke="#000" stroke-width="1.45"/>
<line x1="300.80" y1="370.4" x2="300.80" y2="365.09999999999997" stroke="#000" stroke-width="1.45"/>
<line x1="363.00" y1="240.0" x2="363.00" y2="245.3" stroke="#000" stroke-width="1.45"/>
<line x1="363.00" y1="370.4" x2="363.00" y2="365.09999999999997" stroke="#000" stroke-width="1.45"/>
<line x1="83.1" y1="182.75" x2="88.6" y2="182.75" stroke="#000" stroke-width="1.45"/>
<line x1="394.1" y1="182.75" x2="388.6" y2="182.75" stroke="#000" stroke-width="1.45"/>
<line x1="83.1" y1="147.90" x2="88.6" y2="147.90" stroke="#000" stroke-width="1.45"/>
<line x1="394.1" y1="147.90" x2="388.6" y2="147.90" stroke="#000" stroke-width="1.45"/>
<line x1="83.1" y1="113.05" x2="88.6" y2="113.05" stroke="#000" stroke-width="1.45"/>
<line x1="394.1" y1="113.05" x2="388.6" y2="113.05" stroke="#000" stroke-width="1.45"/>
<line x1="83.1" y1="326.93" x2="88.6" y2="326.93" stroke="#000" stroke-width="1.45"/>
<line x1="394.1" y1="326.93" x2="388.6" y2="326.93" stroke="#000" stroke-width="1.45"/>
<line x1="83.1" y1="283.47" x2="88.6" y2="283.47" stroke="#000" stroke-width="1.45"/>
<line x1="394.1" y1="283.47" x2="388.6" y2="283.47" stroke="#000" stroke-width="1.45"/>
<text x="71.8" y="222.4" font-size="17.3" text-anchor="end" fill="#000" opacity="0.77"  textLength="9.3" lengthAdjust="spacingAndGlyphs"  style="">0</text>
<text x="71.8" y="187.55" font-size="17.3" text-anchor="end" fill="#000" opacity="0.77"  textLength="18.6" lengthAdjust="spacingAndGlyphs"  style="">20</text>
<text x="71.8" y="152.7" font-size="17.3" text-anchor="end" fill="#000" opacity="0.77"  textLength="18.6" lengthAdjust="spacingAndGlyphs"  style="">40</text>
<text x="71.8" y="117.85" font-size="17.3" text-anchor="end" fill="#000" opacity="0.77"  textLength="18.6" lengthAdjust="spacingAndGlyphs"  style="">60</text>
<text x="71.8" y="83.0" font-size="17.3" text-anchor="end" fill="#000" opacity="0.77"  textLength="18.6" lengthAdjust="spacingAndGlyphs"  style="">80</text>
<text x="71.8" y="375.2" font-size="17.3" text-anchor="end" fill="#000" opacity="0.77"  textLength="9.3" lengthAdjust="spacingAndGlyphs"  style="">0</text>
<text x="71.8" y="331.73" font-size="17.3" text-anchor="end" fill="#000" opacity="0.77"  textLength="18.6" lengthAdjust="spacingAndGlyphs"  style="">10</text>
<text x="71.8" y="288.27" font-size="17.3" text-anchor="end" fill="#000" opacity="0.77"  textLength="18.6" lengthAdjust="spacingAndGlyphs"  style="">20</text>
<text x="71.8" y="244.8" font-size="17.3" text-anchor="end" fill="#000" opacity="0.77"  textLength="18.6" lengthAdjust="spacingAndGlyphs"  style="">30</text>
<text x="114.0" y="394.8" font-size="17.3" text-anchor="middle" fill="#000" opacity="0.77"  textLength="24.8" lengthAdjust="spacingAndGlyphs"  style="">-40</text>
<text x="176.2" y="394.8" font-size="17.3" text-anchor="middle" fill="#000" opacity="0.77"  textLength="24.8" lengthAdjust="spacingAndGlyphs"  style="">-20</text>
<text x="238.4" y="394.8" font-size="17.3" text-anchor="middle" fill="#000" opacity="0.77"  textLength="9.3" lengthAdjust="spacingAndGlyphs"  style="">0</text>
<text x="300.6" y="394.8" font-size="17.3" text-anchor="middle" fill="#000" opacity="0.77"  textLength="18.6" lengthAdjust="spacingAndGlyphs"  style="">20</text>
<text x="362.8" y="394.8" font-size="17.3" text-anchor="middle" fill="#000" opacity="0.77"  textLength="18.6" lengthAdjust="spacingAndGlyphs"  style="">40</text>
<text x="210.8" y="422.3" font-size="18.5" text-anchor="start" fill="#000" opacity="0.77"  textLength="10.6" lengthAdjust="spacingAndGlyphs"  style="font-style:italic">x</text>
<text x="227.8" y="422.5" font-size="20.5" text-anchor="start" fill="#000" opacity="0.77"   style="">(</text>
<text x="234.0" y="422.3" font-size="17.5" text-anchor="start" fill="#000" opacity="0.77"  textLength="24.4" lengthAdjust="spacingAndGlyphs"  style="">nm</text>
<text x="259.9" y="422.5" font-size="20.5" text-anchor="start" fill="#000" opacity="0.77"   style="">)</text>
<g transform="translate(34.4,320) rotate(-90)">
<text x="-0.9" y="0" font-size="17" text-anchor="start" fill="#000" opacity="0.77"   style="">|</text>
<text x="2.6" y="0" font-size="18.5" text-anchor="start" fill="#000" opacity="0.68"  textLength="17.2" lengthAdjust="spacingAndGlyphs"  style="font-style:italic">ψ</text>
<text x="20.0" y="3.2" font-size="13" text-anchor="start" fill="#000" opacity="0.77"   style="font-style:italic">k</text>
<text x="27.8" y="5.2" font-size="10" text-anchor="start" fill="#000" opacity="0.77"   style="font-style:italic">z</text>
<text x="35.3" y="0" font-size="17.5" text-anchor="start" fill="#000" opacity="0.77"   style="">(</text>
<text x="41.9" y="0" font-size="18" text-anchor="start" fill="#000" opacity="0.77"  textLength="12" lengthAdjust="spacingAndGlyphs"  style="font-style:italic">x</text>
<text x="54.8" y="0" font-size="17.5" text-anchor="start" fill="#000" opacity="0.77"   style="">)</text>
<text x="61.6" y="0" font-size="17" text-anchor="start" fill="#000" opacity="0.77"   style="">|</text>
<text x="65.9" y="-8.0" font-size="13" text-anchor="start" fill="#000" opacity="0.77"  textLength="8" lengthAdjust="spacingAndGlyphs"  style="">2</text>
<text x="76.8" y="0" font-size="17.5" text-anchor="start" fill="#000" opacity="0.77"   style="">(</text>
<text x="84.3" y="0" font-size="17.3" text-anchor="start" fill="#000" opacity="0.77"  textLength="18.6" lengthAdjust="spacingAndGlyphs"  style="">10</text>
<text x="104.0" y="-8.0" font-size="12.5" text-anchor="start" fill="#000" opacity="0.77"   style="">−3</text>
<text x="118.6" y="0" font-size="17.3" text-anchor="start" fill="#000" opacity="0.77"   style="">/</text>
<text x="129.0" y="0" font-size="17.3" text-anchor="start" fill="#000" opacity="0.77"  textLength="24" lengthAdjust="spacingAndGlyphs"  style="">nm</text>
<text x="155.4" y="0" font-size="17.5" text-anchor="start" fill="#000" opacity="0.77"   style="">)</text>
</g>
<text x="99.0" y="97.4" font-size="19.5" text-anchor="start" fill="#000" opacity="0.77"  textLength="23.6" lengthAdjust="spacingAndGlyphs"  style="">(b)</text>
<text x="127.4" y="108.8" font-size="16" text-anchor="start" fill="#000" opacity="0.77"  textLength="8.4" lengthAdjust="spacingAndGlyphs"  style="font-style:italic">k</text>
<text x="136.0" y="109.8" font-size="11.5" text-anchor="start" fill="#000" opacity="0.77"   style="font-style:italic">z</text>
<text x="147.7" y="109.0" font-size="16.8" text-anchor="start" fill="#000" opacity="0.77"   style="">(</text>
<text x="153.5" y="108.8" font-size="16" text-anchor="start" fill="#000" opacity="0.77"  textLength="22.3" lengthAdjust="spacingAndGlyphs"  style="">nm</text>
<text x="176.6" y="102.0" font-size="11.5" text-anchor="start" fill="#000" opacity="0.77"  textLength="14.4" lengthAdjust="spacingAndGlyphs"  style="">−1</text>
<text x="192.9" y="109.0" font-size="16.8" text-anchor="start" fill="#000" opacity="0.77"   style="">)</text>
<line x1="109.7" y1="122.2" x2="126.7" y2="122.2" stroke="#ff0000" stroke-width="1.6" />
<text x="137.0" y="127.3" font-size="16.3" text-anchor="start" fill="#000" opacity="0.77"   style="">0.06</text>
<line x1="109.7" y1="140.8" x2="126.7" y2="140.8" stroke="#ff00ff" stroke-width="1.6" stroke-dasharray="3.5 1.6"/>
<text x="135.9" y="145.9" font-size="16.3" text-anchor="start" fill="#000" opacity="0.77"   style="">17.35</text>
<line x1="109.7" y1="159.5" x2="126.7" y2="159.5" stroke="#0000ff" stroke-width="1.6" stroke-dasharray="1.9 2.35"/>
<text x="135.9" y="164.6" font-size="16.3" text-anchor="start" fill="#000" opacity="0.77"   style="">17.38</text>
<text x="99.0" y="257.4" font-size="19.5" text-anchor="start" fill="#000" opacity="0.77"  textLength="21.6" lengthAdjust="spacingAndGlyphs"  style="">(c)</text>
<text x="127.4" y="265.1" font-size="16" text-anchor="start" fill="#000" opacity="0.77"  textLength="8.4" lengthAdjust="spacingAndGlyphs"  style="font-style:italic">k</text>
<text x="136.0" y="266.1" font-size="11.5" text-anchor="start" fill="#000" opacity="0.77"   style="font-style:italic">z</text>
<text x="147.7" y="265.3" font-size="16.8" text-anchor="start" fill="#000" opacity="0.77"   style="">(</text>
<text x="153.5" y="265.1" font-size="16" text-anchor="start" fill="#000" opacity="0.77"  textLength="22.3" lengthAdjust="spacingAndGlyphs"  style="">nm</text>
<text x="176.6" y="258.3" font-size="11.5" text-anchor="start" fill="#000" opacity="0.77"  textLength="14.4" lengthAdjust="spacingAndGlyphs"  style="">−1</text>
<text x="192.9" y="265.3" font-size="16.8" text-anchor="start" fill="#000" opacity="0.77"   style="">)</text>
<line x1="109.7" y1="277.9" x2="126.7" y2="277.9" stroke="#ff0000" stroke-width="1.6" />
<text x="137.0" y="283.0" font-size="16.3" text-anchor="start" fill="#000" opacity="0.77"   style="">0.13</text>
<line x1="109.7" y1="296.7" x2="126.7" y2="296.7" stroke="#ff00ff" stroke-width="1.6" stroke-dasharray="3.5 1.6"/>
<text x="137.0" y="301.8" font-size="16.3" text-anchor="start" fill="#000" opacity="0.77"   style="">5.98</text>
<line x1="109.7" y1="315.8" x2="126.7" y2="315.8" stroke="#0000ff" stroke-width="1.6" stroke-dasharray="1.9 2.35"/>
<text x="137.0" y="320.90000000000003" font-size="16.3" text-anchor="start" fill="#000" opacity="0.77"   style="">6.04</text>
<line x1="241.3" y1="181.3" x2="262.9" y2="181.3" stroke="#000" stroke-width="1.2"/>
<path d="M238.30 181.30 L246.70 178.60 L246.70 184.00 Z" fill="#000"/>
<path d="M265.90 181.30 L257.50 178.60 L257.50 184.00 Z" fill="#000"/>
<text x="247.6" y="196.5" font-size="18.3" text-anchor="start" fill="#000" opacity="0.77"   style="font-style:italic">ξ</text>
<line x1="241.3" y1="338.0" x2="310.2" y2="338.0" stroke="#000" stroke-width="1.1"/>
<path d="M238.30 338.00 L248.30 335.10 L248.30 340.90 Z" fill="#000"/>
<path d="M313.20 338.00 L303.20 335.10 L303.20 340.90 Z" fill="#000"/>
<line x1="241.3" y1="342.3" x2="329.0" y2="342.3" stroke="#000" stroke-width="1.1"/>
<path d="M238.30 342.30 L248.30 339.40 L248.30 345.20 Z" fill="#000"/>
<path d="M332.00 342.30 L322.00 339.40 L322.00 345.20 Z" fill="#000"/>
<text x="268.2" y="331.6" font-size="18.3" text-anchor="start" fill="#000" opacity="0.77"   style="font-style:italic">ξ</text>
<rect x="290.4" y="87.4" width="91.60000000000002" height="85.9" fill="#fff" stroke="none"/>
<line x1="304.19" y1="173.3" x2="304.19" y2="170.60000000000002" stroke="#000" stroke-width="1.4"/>
<line x1="304.19" y1="87.4" x2="304.19" y2="90.10000000000001" stroke="#000" stroke-width="1.4"/>
<line x1="312.25" y1="173.3" x2="312.25" y2="170.60000000000002" stroke="#000" stroke-width="1.4"/>
<line x1="312.25" y1="87.4" x2="312.25" y2="90.10000000000001" stroke="#000" stroke-width="1.4"/>
<line x1="317.97" y1="173.3" x2="317.97" y2="170.60000000000002" stroke="#000" stroke-width="1.4"/>
<line x1="317.97" y1="87.4" x2="317.97" y2="90.10000000000001" stroke="#000" stroke-width="1.4"/>
<line x1="322.41" y1="173.3" x2="322.41" y2="170.60000000000002" stroke="#000" stroke-width="1.4"/>
<line x1="322.41" y1="87.4" x2="322.41" y2="90.10000000000001" stroke="#000" stroke-width="1.4"/>
<line x1="326.04" y1="173.3" x2="326.04" y2="170.60000000000002" stroke="#000" stroke-width="1.4"/>
<line x1="326.04" y1="87.4" x2="326.04" y2="90.10000000000001" stroke="#000" stroke-width="1.4"/>
<line x1="329.11" y1="173.3" x2="329.11" y2="170.60000000000002" stroke="#000" stroke-width="1.4"/>
<line x1="329.11" y1="87.4" x2="329.11" y2="90.10000000000001" stroke="#000" stroke-width="1.4"/>
<line x1="331.76" y1="173.3" x2="331.76" y2="170.60000000000002" stroke="#000" stroke-width="1.4"/>
<line x1="331.76" y1="87.4" x2="331.76" y2="90.10000000000001" stroke="#000" stroke-width="1.4"/>
<line x1="334.10" y1="173.3" x2="334.10" y2="170.60000000000002" stroke="#000" stroke-width="1.4"/>
<line x1="334.10" y1="87.4" x2="334.10" y2="90.10000000000001" stroke="#000" stroke-width="1.4"/>
<line x1="336.20" y1="173.3" x2="336.20" y2="168.3" stroke="#000" stroke-width="1.4"/>
<line x1="336.20" y1="87.4" x2="336.20" y2="92.4" stroke="#000" stroke-width="1.4"/>
<line x1="349.99" y1="173.3" x2="349.99" y2="170.60000000000002" stroke="#000" stroke-width="1.4"/>
<line x1="349.99" y1="87.4" x2="349.99" y2="90.10000000000001" stroke="#000" stroke-width="1.4"/>
<line x1="358.05" y1="173.3" x2="358.05" y2="170.60000000000002" stroke="#000" stroke-width="1.4"/>
<line x1="358.05" y1="87.4" x2="358.05" y2="90.10000000000001" stroke="#000" stroke-width="1.4"/>
<line x1="363.77" y1="173.3" x2="363.77" y2="170.60000000000002" stroke="#000" stroke-width="1.4"/>
<line x1="363.77" y1="87.4" x2="363.77" y2="90.10000000000001" stroke="#000" stroke-width="1.4"/>
<line x1="368.21" y1="173.3" x2="368.21" y2="170.60000000000002" stroke="#000" stroke-width="1.4"/>
<line x1="368.21" y1="87.4" x2="368.21" y2="90.10000000000001" stroke="#000" stroke-width="1.4"/>
<line x1="371.84" y1="173.3" x2="371.84" y2="170.60000000000002" stroke="#000" stroke-width="1.4"/>
<line x1="371.84" y1="87.4" x2="371.84" y2="90.10000000000001" stroke="#000" stroke-width="1.4"/>
<line x1="374.91" y1="173.3" x2="374.91" y2="170.60000000000002" stroke="#000" stroke-width="1.4"/>
<line x1="374.91" y1="87.4" x2="374.91" y2="90.10000000000001" stroke="#000" stroke-width="1.4"/>
<line x1="377.56" y1="173.3" x2="377.56" y2="170.60000000000002" stroke="#000" stroke-width="1.4"/>
<line x1="377.56" y1="87.4" x2="377.56" y2="90.10000000000001" stroke="#000" stroke-width="1.4"/>
<line x1="379.90" y1="173.3" x2="379.90" y2="170.60000000000002" stroke="#000" stroke-width="1.4"/>
<line x1="379.90" y1="87.4" x2="379.90" y2="90.10000000000001" stroke="#000" stroke-width="1.4"/>
<line x1="290.4" y1="170.11" x2="293.09999999999997" y2="170.11" stroke="#000" stroke-width="1.4"/>
<line x1="382.0" y1="170.11" x2="379.3" y2="170.11" stroke="#000" stroke-width="1.4"/>
<line x1="290.4" y1="166.46" x2="293.09999999999997" y2="166.46" stroke="#000" stroke-width="1.4"/>
<line x1="382.0" y1="166.46" x2="379.3" y2="166.46" stroke="#000" stroke-width="1.4"/>
<line x1="290.4" y1="163.20" x2="295.59999999999997" y2="163.20" stroke="#000" stroke-width="1.4"/>
<line x1="382.0" y1="163.20" x2="376.8" y2="163.20" stroke="#000" stroke-width="1.4"/>
<line x1="290.4" y1="141.74" x2="293.09999999999997" y2="141.74" stroke="#000" stroke-width="1.4"/>
<line x1="382.0" y1="141.74" x2="379.3" y2="141.74" stroke="#000" stroke-width="1.4"/>
<line x1="290.4" y1="129.18" x2="293.09999999999997" y2="129.18" stroke="#000" stroke-width="1.4"/>
<line x1="382.0" y1="129.18" x2="379.3" y2="129.18" stroke="#000" stroke-width="1.4"/>
<line x1="290.4" y1="120.27" x2="293.09999999999997" y2="120.27" stroke="#000" stroke-width="1.4"/>
<line x1="382.0" y1="120.27" x2="379.3" y2="120.27" stroke="#000" stroke-width="1.4"/>
<line x1="290.4" y1="113.36" x2="293.09999999999997" y2="113.36" stroke="#000" stroke-width="1.4"/>
<line x1="382.0" y1="113.36" x2="379.3" y2="113.36" stroke="#000" stroke-width="1.4"/>
<line x1="290.4" y1="107.72" x2="293.09999999999997" y2="107.72" stroke="#000" stroke-width="1.4"/>
<line x1="382.0" y1="107.72" x2="379.3" y2="107.72" stroke="#000" stroke-width="1.4"/>
<line x1="290.4" y1="102.94" x2="293.09999999999997" y2="102.94" stroke="#000" stroke-width="1.4"/>
<line x1="382.0" y1="102.94" x2="379.3" y2="102.94" stroke="#000" stroke-width="1.4"/>
<line x1="290.4" y1="98.81" x2="293.09999999999997" y2="98.81" stroke="#000" stroke-width="1.4"/>
<line x1="382.0" y1="98.81" x2="379.3" y2="98.81" stroke="#000" stroke-width="1.4"/>
<line x1="290.4" y1="95.16" x2="293.09999999999997" y2="95.16" stroke="#000" stroke-width="1.4"/>
<line x1="382.0" y1="95.16" x2="379.3" y2="95.16" stroke="#000" stroke-width="1.4"/>
<line x1="290.4" y1="91.90" x2="295.59999999999997" y2="91.90" stroke="#000" stroke-width="1.4"/>
<line x1="382.0" y1="91.90" x2="376.8" y2="91.90" stroke="#000" stroke-width="1.4"/>
<circle cx="290.2" cy="87.3" r="2.55" fill="#00aa00"/>
<circle cx="290.2" cy="99.6" r="2.55" fill="#00aa00"/>
<circle cx="304.3" cy="102.0" r="2.55" fill="#00aa00"/>
<circle cx="304.3" cy="110.7" r="2.55" fill="#00aa00"/>
<circle cx="322.4" cy="117.8" r="2.55" fill="#00aa00"/>
<circle cx="322.4" cy="124.9" r="2.55" fill="#00aa00"/>
<circle cx="336.2" cy="128.9" r="2.55" fill="#00aa00"/>
<circle cx="336.2" cy="136" r="2.55" fill="#00aa00"/>
<circle cx="349.8" cy="140.2" r="2.55" fill="#00aa00"/>
<circle cx="349.8" cy="146.3" r="2.55" fill="#00aa00"/>
<circle cx="368.1" cy="155.2" r="2.55" fill="#00aa00"/>
<circle cx="368.1" cy="159.8" r="2.55" fill="#00aa00"/>
<circle cx="381.8" cy="166.6" r="2.55" fill="#00aa00"/>
<circle cx="381.8" cy="169.2" r="2.55" fill="#00aa00"/>
<path d="M290.40 87.20 L292.69 89.41 L294.98 91.60 L297.27 93.78 L299.56 95.95 L301.85 98.11 L304.14 100.25 L306.43 102.38 L308.72 104.50 L311.01 106.61 L313.30 108.70 L315.59 110.78 L317.88 112.85 L320.17 114.90 L322.46 116.95 L324.75 118.98 L327.04 120.99 L329.33 123.00 L331.62 124.99 L333.91 126.97 L336.20 128.93 L338.49 130.89 L340.78 132.83 L343.07 134.75 L345.36 136.67 L347.65 138.57 L349.94 140.46 L352.23 142.34 L354.52 144.20 L356.81 146.06 L359.10 147.89 L361.39 149.72 L363.68 151.53 L365.97 153.34 L368.26 155.12 L370.55 156.90 L372.84 158.66 L375.13 160.41 L377.42 162.15 L379.71 163.88 L382.00 165.59" fill="none" stroke="#000" stroke-width="1.4" />
<path d="M290.40 100.10 L292.69 101.94 L294.98 103.78 L297.27 105.62 L299.56 107.44 L301.85 109.27 L304.14 111.08 L306.43 112.89 L308.72 114.70 L311.01 116.50 L313.30 118.29 L315.59 120.08 L317.88 121.86 L320.17 123.64 L322.46 125.41 L324.75 127.18 L327.04 128.94 L329.33 130.69 L331.62 132.44 L333.91 134.19 L336.20 135.92 L338.49 137.66 L340.78 139.38 L343.07 141.10 L345.36 142.82 L347.65 144.53 L349.94 146.23 L352.23 147.93 L354.52 149.63 L356.81 151.31 L359.10 153.00 L361.39 154.67 L363.68 156.34 L365.97 158.01 L368.26 159.67 L370.55 161.32 L372.84 162.97 L375.13 164.61 L377.42 166.25 L379.71 167.88 L382.00 169.50" fill="none" stroke="#000" stroke-width="1.4" stroke-dasharray="5.4 1.8"/>
<rect x="290.4" y="87.4" width="91.60000000000002" height="85.9" fill="none" stroke="#000" stroke-width="2.0"/>
<text x="285.8" y="96.0" font-size="11.4" text-anchor="end" fill="#000" opacity="0.77"  textLength="17.6" lengthAdjust="spacingAndGlyphs"  style="">100</text>
<text x="285.8" y="167.9" font-size="11.4" text-anchor="end" fill="#000" opacity="0.77"  textLength="12.2" lengthAdjust="spacingAndGlyphs"  style="">10</text>
<text x="290.3" y="189.0" font-size="11.4" text-anchor="middle" fill="#000" opacity="0.77"   style="">1</text>
<text x="336.5" y="189.0" font-size="11.4" text-anchor="middle" fill="#000" opacity="0.77"  textLength="12.2" lengthAdjust="spacingAndGlyphs"  style="">10</text>
<text x="381.3" y="189.0" font-size="11.4" text-anchor="middle" fill="#000" opacity="0.77"  textLength="17.4" lengthAdjust="spacingAndGlyphs"  style="">100</text>
<text x="304.2" y="206.8" font-size="16.8" text-anchor="start" fill="#000" opacity="0.77"  textLength="11.6" lengthAdjust="spacingAndGlyphs"  style="font-style:italic">V</text>
<text x="313.9" y="208.4" font-size="11.8" text-anchor="start" fill="#000" opacity="0.77"   style="">0</text>
<text x="325.7" y="207.0" font-size="17.3" text-anchor="start" fill="#000" opacity="0.77"   style="">(</text>
<text x="331.3" y="206.8" font-size="16.5" text-anchor="start" fill="#000" opacity="0.77"  textLength="30.6" lengthAdjust="spacingAndGlyphs"  style="">meV</text>
<text x="362.7" y="207.0" font-size="17.3" text-anchor="start" fill="#000" opacity="0.77"   style="">)</text>
<text x="350.6" y="109.6" font-size="19.5" text-anchor="start" fill="#000" opacity="0.77"  textLength="23.2" lengthAdjust="spacingAndGlyphs"  style="">(d)</text>
<g transform="translate(280.0,154.6) rotate(-90)">
<text x="0" y="0" font-size="16.8" text-anchor="start" fill="#000" opacity="0.77"   style="font-style:italic">ξ</text>
<text x="13.9" y="0" font-size="17.5" text-anchor="start" fill="#000" opacity="0.77"   style="">(</text>
<text x="19.8" y="0" font-size="16.5" text-anchor="start" fill="#000" opacity="0.77"  textLength="20.6" lengthAdjust="spacingAndGlyphs"  style="">nm</text>
<text x="41.4" y="0" font-size="17.5" text-anchor="start" fill="#000" opacity="0.77"   style="">)</text>
</g>
</svg>
</body></html>
